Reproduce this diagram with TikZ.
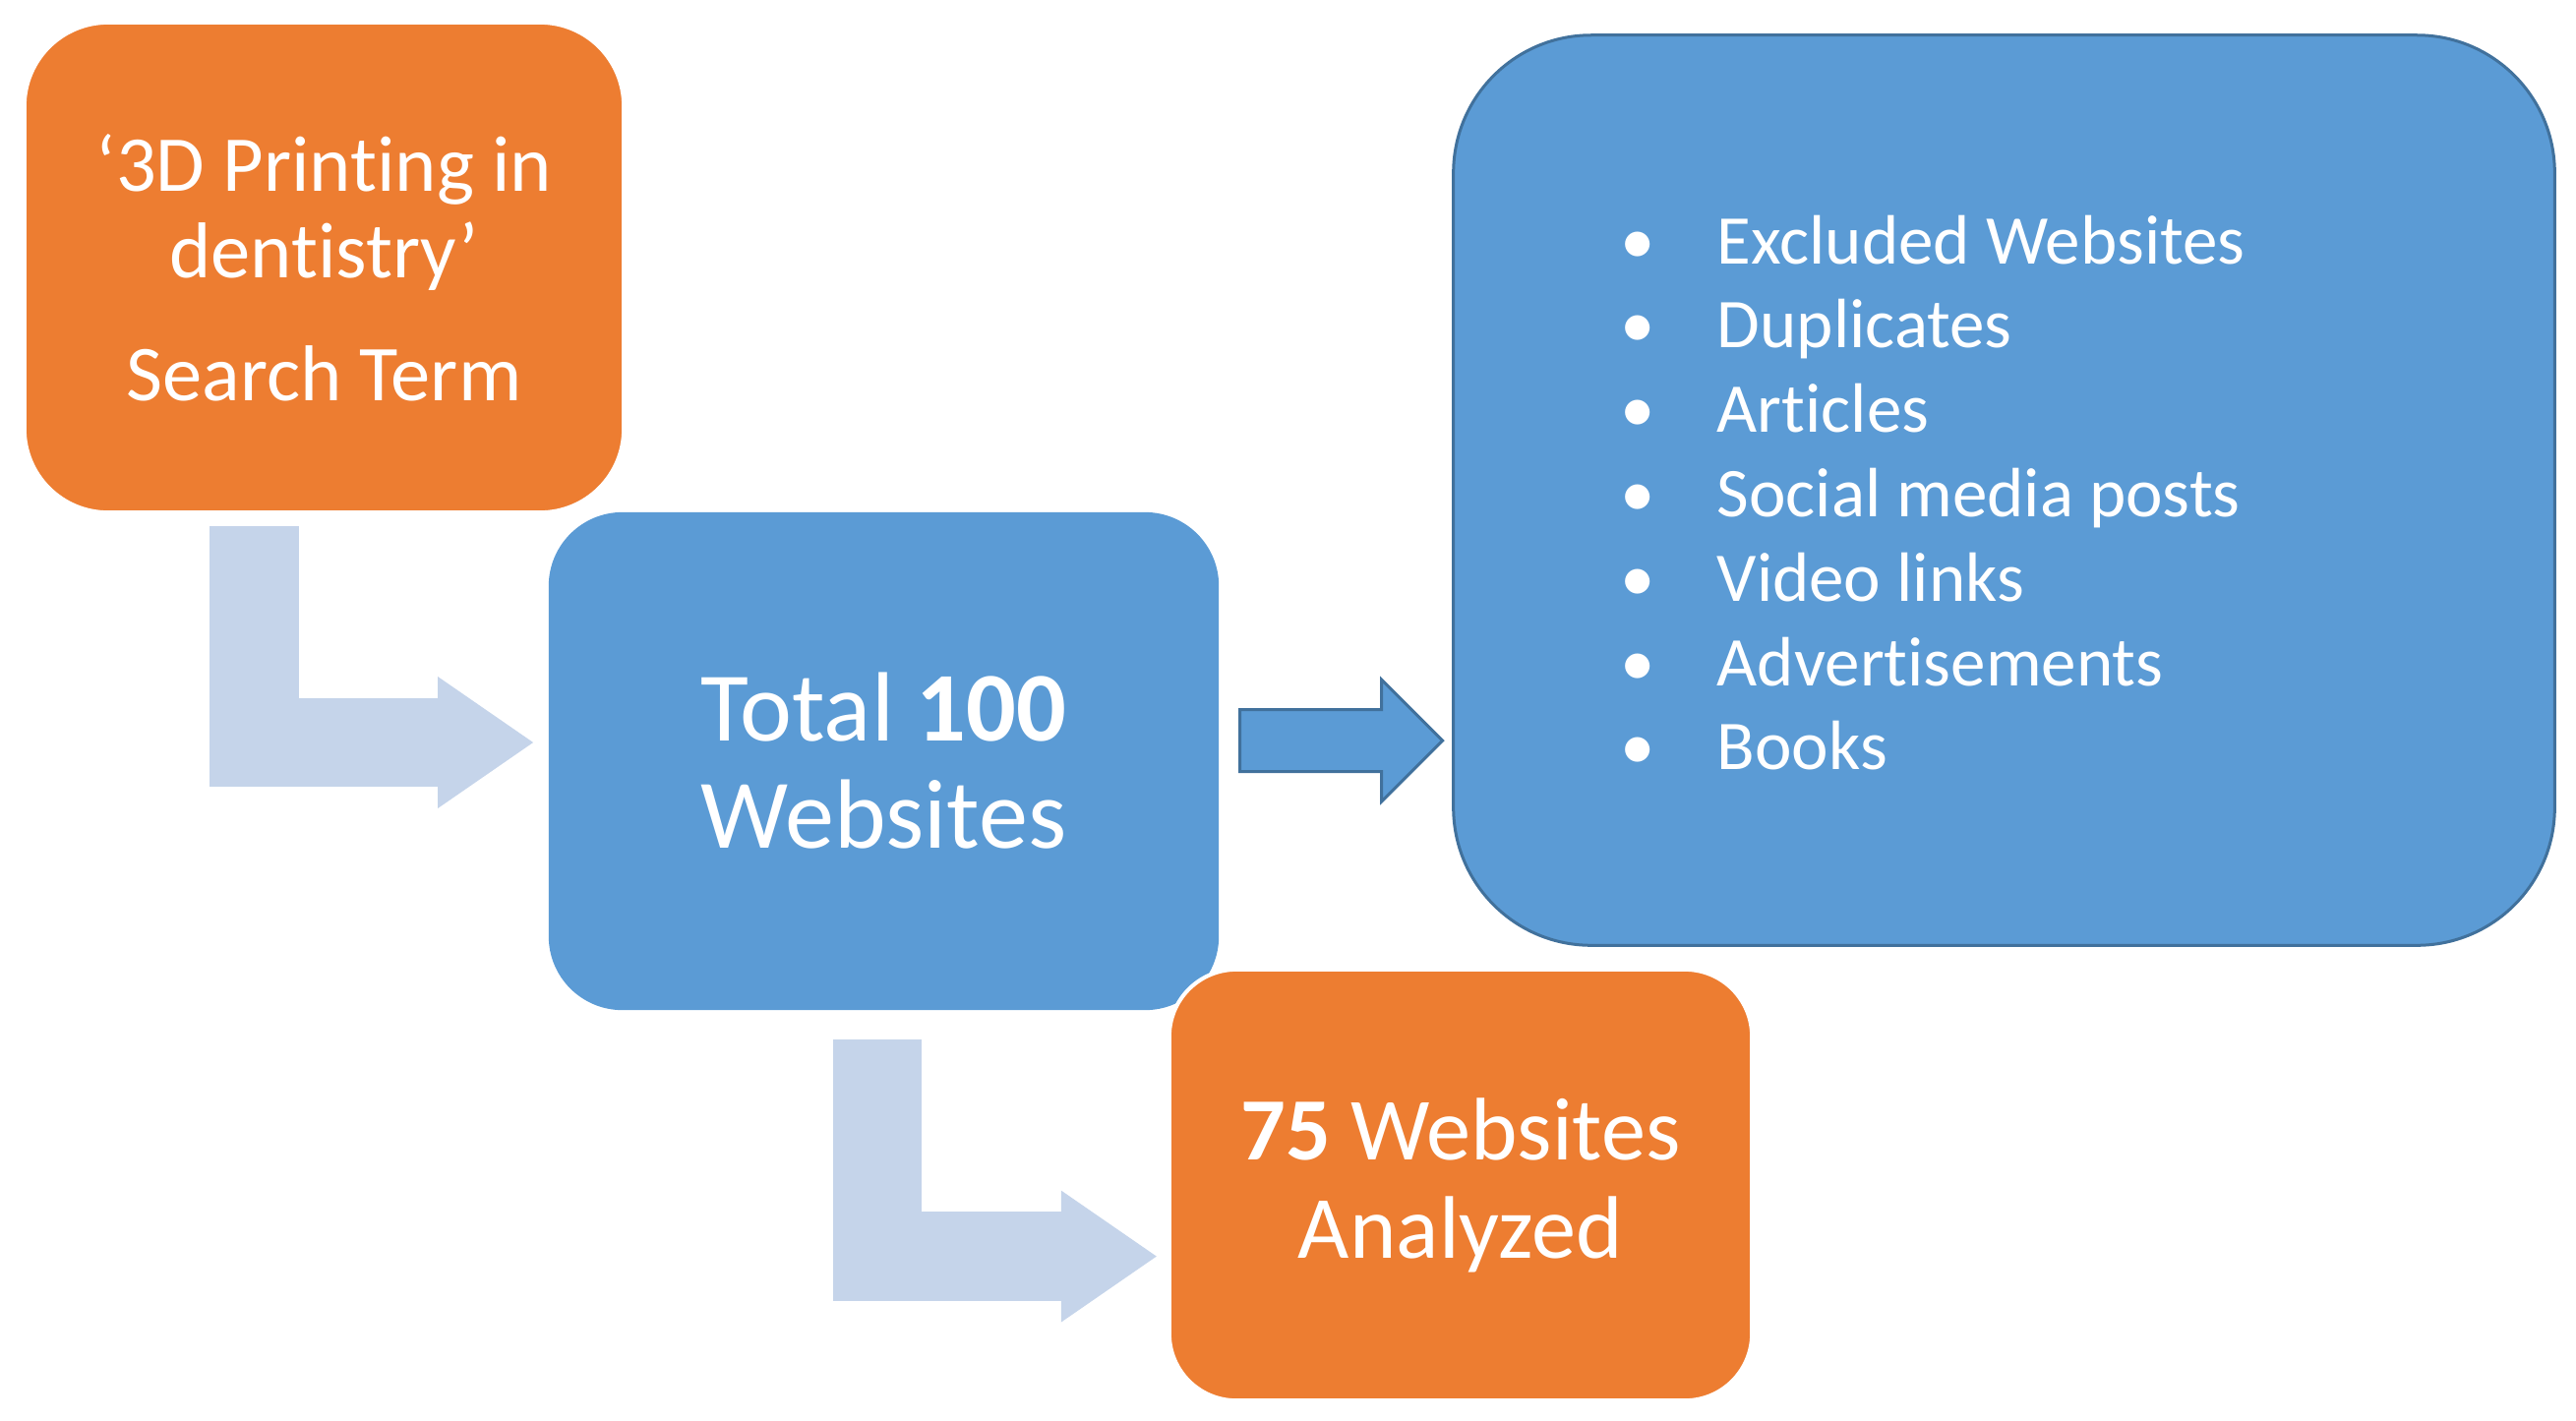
\documentclass[tikz,border=0pt]{standalone}
\usepackage{fontspec}
\setmainfont{Carlito}[Ligatures=NoCommon]
\usetikzlibrary{arrows.meta}
\usetikzlibrary{shapes.arrows,positioning}

\definecolor{boxorange}{RGB}{237,125,49}
\definecolor{boxblue}{RGB}{91,155,213}
\definecolor{edgeblue}{RGB}{65,113,156}
\definecolor{arrowpale}{RGB}{197,212,234}

\newcommand{\bulletitem}[1]{\makebox[0.98cm][l]{•}#1}

\begin{document}
\begin{tikzpicture}[x=0.01cm,y=-0.01cm,
  box/.style={rectangle,inner sep=0pt,text=white,align=center},
  orangebox/.style={box,fill=boxorange,draw=white,line width=0.04cm},
  bluebox/.style={box,fill=boxblue},
  paleflow/.style={draw=arrowpale,line width=0.905cm,
    -{Triangle[length=0.97cm,width=1.34cm,line width=0pt]}}]
\useasboundingbox (0,0) rectangle (2619,1444);

\node[orangebox,minimum width=6.09cm,minimum height=4.98cm,rounded corners=0.85cm,
  font=\fontsize{22.9pt}{25pt}\selectfont] (term) at (329.5,272)
  {‘3D Printing in\\dentistry’\\[10.6pt]Search Term};
\node[bluebox,minimum width=6.81cm,minimum height=5.06cm,rounded corners=0.75cm,
  font=\fontsize{28.5pt}{31pt}\selectfont] (total) at (898.5,774)
  {Total \textbf{100}\\Websites};
\node[bluebox,draw=edgeblue,line width=0.03cm,minimum width=11.19cm,minimum height=9.25cm,
  rounded corners=1.4cm] (excl) at (2037.5,498.5) {};
\node[text=white,anchor=west,align=left,inner sep=0pt,
  font=\fontsize{20.2pt}{24.4pt}\selectfont] (items) at (1647,501)
  {\bulletitem{Excluded Websites}\\\bulletitem{Duplicates}\\\bulletitem{Articles}\\
   \bulletitem{Social media posts}\\\bulletitem{Video links}\\\bulletitem{Advertisements}\\
   \bulletitem{Books}};
\node[orangebox,minimum width=5.92cm,minimum height=4.38cm,rounded corners=0.68cm,
  font=\fontsize{25.7pt}{28.5pt}\selectfont] (final) at (1485,1205)
  {\textbf{75} Websites\\Analyzed};

% flow arrows
\coordinate (l1) at (258.5,535);
\coordinate (l2) at (892,1057);
\draw[paleflow,shorten >=0.15cm] (l1) |- ([yshift=0.19cm]total.west);
\draw[paleflow,shorten >=0.11cm] (l2) |- ([yshift=-0.725cm]final.west);
\node[single arrow,fill=boxblue,draw=edgeblue,line width=0.03cm,inner xsep=0pt,inner ysep=0.3cm,
  minimum height=2.06cm,minimum width=1.21cm,single arrow head extend=0.305cm,
  anchor=tail] (out) at (1259,753) {};
\end{tikzpicture}
\end{document}
